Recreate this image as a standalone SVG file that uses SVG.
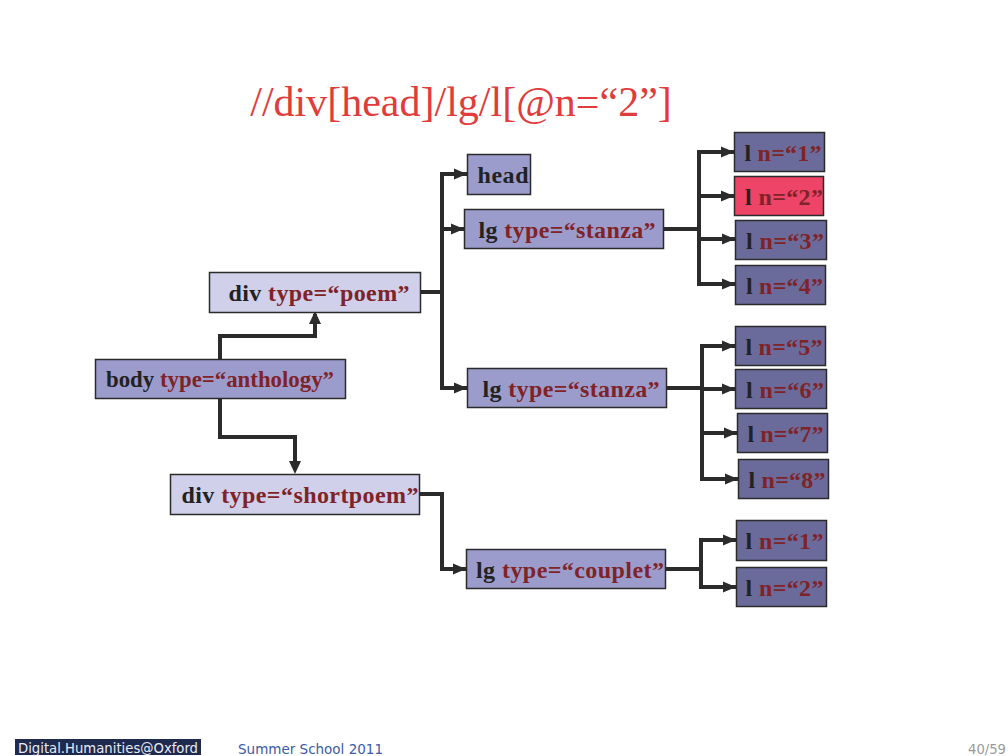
<svg xmlns="http://www.w3.org/2000/svg" width="1008" height="756" viewBox="0 0 1008 756">
<style>
.box{stroke:#2b2b2b;stroke-width:1.5}
.d{fill:#D0D0EA}
.m{fill:#9C9CCC}
.l{fill:#6B6B9B}
.p{fill:#EE4468}
.t{font-family:"Liberation Serif","Times New Roman",serif;font-weight:bold;font-size:24px;text-anchor:middle;fill:#222}
.v{fill:#7F2328}
.c{fill:none;stroke:#2b2b2b;stroke-width:4;stroke-linejoin:miter}
.a{marker-end:url(#ah)}
</style>
<defs>
<marker id="ah" markerUnits="userSpaceOnUse" markerWidth="16" markerHeight="14" refX="13" refY="6" orient="auto" viewBox="0 0 16 12">
<path d="M0,0.5 L13,6 L0,11.5 Z" fill="#2b2b2b"/>
</marker>
</defs>
<rect width="1008" height="756" fill="#fff"/>
<text x="461" y="116" font-family="Liberation Serif,'Times New Roman',serif" font-size="42" fill="#E03C3C" text-anchor="middle">//div[head]/lg/l[@n=“2”]</text>

<g id="connectors">
<path class="c" d="M220,359 V336 H315 V314"/>
<path d="M309,324 L315,311 L321,324 Z" fill="#2b2b2b"/>
<path class="c" d="M220,398 V437 H295 V462"/>
<path d="M289,461 L295,474 L301,461 Z" fill="#2b2b2b"/>
<path class="c" d="M421,292 H442"/>
<path class="c" d="M442,172 V390"/>
<path class="c a" d="M440,174 H467"/>
<path class="c a" d="M442,229 H464"/>
<path class="c a" d="M440,388 H467"/>
<path class="c" d="M663,229 H699"/>
<path class="c" d="M699,150 V286"/>
<path class="c a" d="M697,152 H734"/>
<path class="c a" d="M699,196 H734"/>
<path class="c a" d="M699,239 H735"/>
<path class="c a" d="M697,284 H735"/>
<path class="c" d="M666,388 H702"/>
<path class="c" d="M702,344 V481"/>
<path class="c a" d="M700,346 H735"/>
<path class="c a" d="M702,389 H735"/>
<path class="c a" d="M702,433 H737"/>
<path class="c a" d="M700,479 H738"/>
<path class="c a" d="M420,494 H442 V569 H466"/>
<path class="c" d="M665,569 H701"/>
<path class="c" d="M701,538 V589"/>
<path class="c a" d="M699,540 H736"/>
<path class="c a" d="M699,587 H736"/>
</g>

<g id="body"><rect class="box m" x="95.5" y="359.5" width="250" height="39"/><text class="t" x="220" y="387" textLength="228" lengthAdjust="spacingAndGlyphs"><tspan>body</tspan> <tspan class="v">type=“anthology”</tspan></text></g>
<g id="div-poem"><rect class="box d" x="209.5" y="272.5" width="211" height="40"/><text class="t" x="319" y="301" textLength="181"><tspan>div</tspan> <tspan class="v">type=“poem”</tspan></text></g>
<g id="div-shortpoem"><rect class="box d" x="170.5" y="474.5" width="249" height="40"/><text class="t" x="300" y="503" textLength="237"><tspan>div</tspan> <tspan class="v">type=“shortpoem”</tspan></text></g>
<g id="head"><rect class="box m" x="467.5" y="154.5" width="63" height="40"/><text class="t" x="503" y="183" textLength="51">head</text></g>
<g id="lg-stanza-1"><rect class="box m" x="464.5" y="209.5" width="199" height="39"/><text class="t" x="567" y="238" textLength="177"><tspan>lg</tspan> <tspan class="v">type=“stanza”</tspan></text></g>
<g id="lg-stanza-2"><rect class="box m" x="467.5" y="368.5" width="199" height="39"/><text class="t" x="571" y="397" textLength="177"><tspan>lg</tspan> <tspan class="v">type=“stanza”</tspan></text></g>
<g id="lg-couplet"><rect class="box m" x="466.5" y="549.5" width="199" height="39"/><text class="t" x="570" y="578" textLength="188"><tspan>lg</tspan> <tspan class="v">type=“couplet”</tspan></text></g>

<g id="l1"><rect class="box l" x="734.5" y="132.5" width="90" height="39"/><text class="t" x="783" y="161" textLength="77"><tspan>l</tspan> <tspan class="v">n=“1”</tspan></text></g>
<g id="l2"><rect class="box p" x="734.5" y="176.5" width="89" height="39"/><text class="t" x="784" y="205" textLength="78"><tspan>l</tspan> <tspan class="v">n=“2”</tspan></text></g>
<g id="l3"><rect class="box l" x="735.5" y="220.5" width="91" height="39"/><text class="t" x="785" y="249" textLength="78"><tspan>l</tspan> <tspan class="v">n=“3”</tspan></text></g>
<g id="l4"><rect class="box l" x="735.5" y="265.5" width="90" height="39"/><text class="t" x="784.5" y="294" textLength="77"><tspan>l</tspan> <tspan class="v">n=“4”</tspan></text></g>
<g id="l5"><rect class="box l" x="735.5" y="326.5" width="90" height="39"/><text class="t" x="784" y="355" textLength="77"><tspan>l</tspan> <tspan class="v">n=“5”</tspan></text></g>
<g id="l6"><rect class="box l" x="735.5" y="369.5" width="91" height="39"/><text class="t" x="785" y="398" textLength="78"><tspan>l</tspan> <tspan class="v">n=“6”</tspan></text></g>
<g id="l7"><rect class="box l" x="737.5" y="413.5" width="90" height="39"/><text class="t" x="785.5" y="442" textLength="76"><tspan>l</tspan> <tspan class="v">n=“7”</tspan></text></g>
<g id="l8"><rect class="box l" x="738.5" y="459.5" width="90" height="39"/><text class="t" x="787" y="488" textLength="77"><tspan>l</tspan> <tspan class="v">n=“8”</tspan></text></g>
<g id="l1b"><rect class="box l" x="736.5" y="520.5" width="90" height="40"/><text class="t" x="784.5" y="549" textLength="78"><tspan>l</tspan> <tspan class="v">n=“1”</tspan></text></g>
<g id="l2b"><rect class="box l" x="736.5" y="567.5" width="90" height="39"/><text class="t" x="784.5" y="596" textLength="78"><tspan>l</tspan> <tspan class="v">n=“2”</tspan></text></g>

<g id="footer" font-family="'DejaVu Sans Condensed','DejaVu Sans',sans-serif" font-weight="300">
<rect x="15" y="739" width="186" height="16" fill="#1E2A4E"/>
<text x="18" y="753" font-size="14" fill="#E8ECF5" textLength="180" lengthAdjust="spacingAndGlyphs">Digital.Humanities@Oxford</text>
<text x="238" y="754" font-size="14" fill="#3A5BA8" textLength="145" lengthAdjust="spacingAndGlyphs">Summer School 2011</text>
<text x="968" y="754" font-size="14" fill="#9A9A9A" textLength="38" lengthAdjust="spacingAndGlyphs">40/59</text>
</g>
</svg>
